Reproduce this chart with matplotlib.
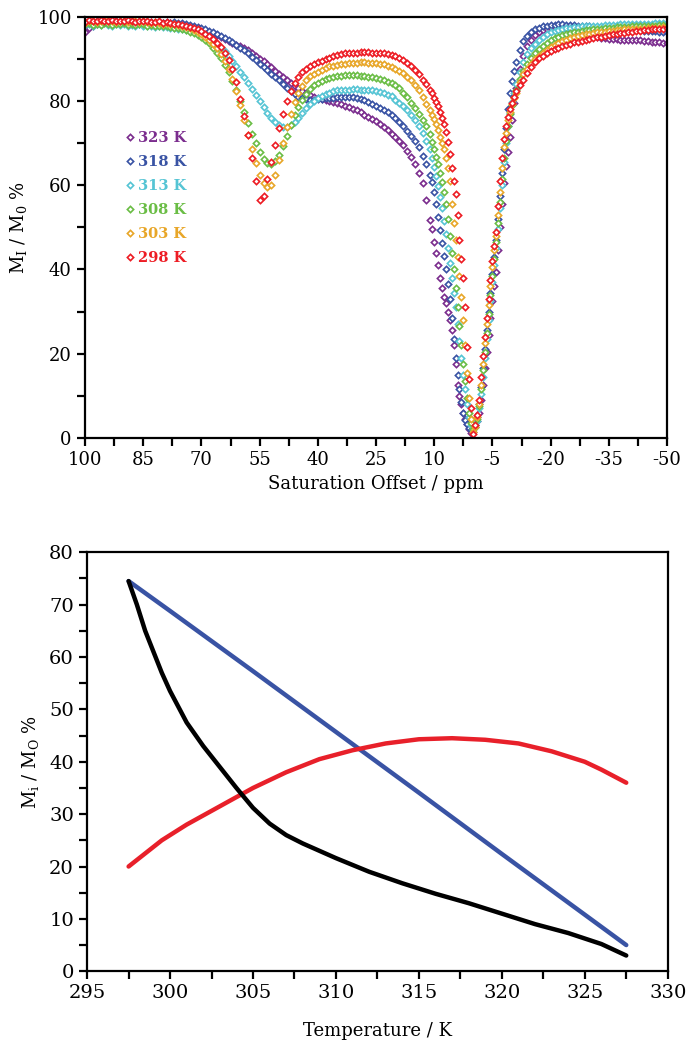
import numpy as np
import matplotlib.pyplot as plt
from matplotlib.ticker import MultipleLocator, FixedLocator

plt.rcParams['font.family'] = ['DejaVu Serif']
plt.rcParams['mathtext.fontset'] = 'dejavuserif'
plt.rcParams['axes.unicode_minus'] = False

# ---- top panel: CEST spectra ----
ppm = list(range(100, 10, -1)) + [10.5 - 0.5 * i for i in range(43)] + list(range(-11, -51, -1))

temps = ['323 K', '318 K', '313 K', '308 K', '303 K', '298 K']
colors = ['#7b2d8e', '#3953a4', '#55c4d4', '#6abd45', '#e8a628', '#ed1c24']

z323 = [
    96.5, 97.3, 97.8, 98.2, 98.5, 98.7, 98.6, 98.8, 98.5, 98.7,
    98.6, 98.8, 98.5, 98.7, 98.4, 98.6, 98.5, 98.7, 98.4, 98.5,
    98.5, 98.6, 98.5, 98.6, 98.4, 98.3, 98.0, 97.8, 97.6, 97.3,
    97.0, 96.7, 96.3, 96.0, 95.6, 95.2, 94.7, 94.3, 93.8, 93.4,
    93.0, 92.5, 92.0, 91.4, 90.7, 90.0, 89.4, 88.7, 88.0, 87.2,
    86.4, 85.7, 85.0, 84.3, 83.6, 83.0, 82.4, 81.9, 81.4, 81.0,
    80.7, 80.4, 80.2, 80.0, 79.8, 79.5, 79.2, 78.9, 78.6, 78.2,
    77.8, 77.3, 76.7, 76.2, 75.8, 75.2, 74.5, 73.8, 73.0, 72.2,
    71.5, 70.6, 69.5, 68.2, 66.8, 65.0, 63.0, 60.5, 56.5, 51.8,
    49.5, 46.5, 43.8, 41.0, 38.0, 35.5, 33.5, 32.0, 30.0, 28.0,
    25.5, 22.0, 17.5, 12.5, 10.0, 8.0, 6.0, 4.5, 3.2, 2.0,
    1.2, 1.5, 2.5, 4.0, 6.0, 9.0, 12.5, 16.5, 20.5, 24.5,
    28.5, 32.5, 36.0, 39.5, 44.5, 50.0, 55.5, 60.5, 64.5, 67.8,
    71.5, 75.5, 79.5,
    83.0, 87.5, 90.8, 93.0, 94.6, 95.7, 96.4, 96.9, 97.2, 97.4,
    97.5, 97.5, 97.4, 97.2, 97.0, 96.7, 96.4, 96.1, 95.8, 95.6,
    95.4, 95.2, 95.0, 94.9, 94.8, 94.8, 94.7, 94.6, 94.6, 94.5,
    94.5, 94.4, 94.4, 94.3, 94.2, 94.1, 94.0, 93.9, 93.8, 93.7]

z318 = [
    98.5, 98.8, 98.4, 98.9, 98.6, 99.0, 98.7, 98.5, 98.9, 98.6,
    98.8, 98.5, 98.7, 98.4, 98.6, 98.3, 98.4, 98.2, 98.1, 98.0,
    98.6, 98.7, 98.6, 98.7, 98.6, 98.5, 98.3, 98.1, 97.9, 97.6,
    97.3, 97.0, 96.7, 96.3, 95.9, 95.5, 95.0, 94.5, 93.9, 93.3,
    92.7, 92.0, 91.3, 90.5, 89.7, 88.9, 88.1, 87.3, 86.5, 85.7,
    84.9, 84.0, 83.1, 82.3, 81.6, 81.0, 80.6, 80.4, 80.3, 80.3,
    80.4, 80.5, 80.6, 80.7, 80.8, 80.9, 81.0, 81.0, 81.0, 80.9,
    80.7, 80.5, 80.2, 79.8, 79.4, 78.9, 78.4, 77.9, 77.3, 76.6,
    75.9, 75.0, 74.0, 72.9, 71.7, 70.4, 69.0, 67.0, 65.0, 62.5,
    60.8, 58.3, 55.5, 52.5, 49.4, 46.3, 43.3, 40.0, 36.5, 33.0,
    28.5, 23.5, 19.0, 15.0, 11.5, 8.5, 6.0, 4.3, 3.2, 2.4,
    1.8, 2.0, 3.0, 5.0, 8.0, 12.0, 16.5, 21.0, 25.5, 30.0,
    34.5, 39.0, 43.0, 47.0, 52.0, 57.5, 63.0, 68.5, 73.5, 78.0,
    81.8, 84.8, 87.2,
    89.2, 92.2, 94.2, 95.5, 96.4, 97.0, 97.4, 97.7, 97.9, 98.0,
    98.1, 98.2, 98.2, 98.1, 98.1, 98.0, 97.9, 97.9, 97.8, 97.7,
    97.6, 97.5, 97.4, 97.3, 97.3, 97.2, 97.1, 97.0, 97.0, 96.9,
    96.9, 96.8, 96.8, 96.7, 96.7, 96.6, 96.6, 96.5, 96.5, 96.5]

z313 = [
    98.0, 98.4, 97.9, 98.3, 98.0, 98.5, 98.1, 97.8, 98.2, 98.0,
    98.3, 97.9, 98.1, 97.8, 98.2, 97.9, 97.7, 97.9, 97.6, 97.7,
    97.5, 97.5, 97.4, 97.3, 97.2, 97.0, 96.9, 96.7, 96.5, 96.3,
    96.0, 95.5, 94.9, 94.2, 93.5, 92.7, 91.8, 90.8, 89.6, 88.3,
    87.0, 85.6, 84.2, 82.8, 81.4, 80.0, 78.6, 77.2, 76.0, 75.0,
    74.3, 73.9, 73.9, 74.3, 75.0, 76.0, 77.2, 78.3, 79.2, 80.0,
    80.6, 81.2, 81.6, 82.0, 82.3, 82.5, 82.6, 82.7, 82.7, 82.8,
    82.8, 82.7, 82.7, 82.6, 82.5, 82.3, 82.1, 81.8, 81.5, 81.1,
    80.3, 79.6, 78.8, 77.8, 76.7, 75.4, 74.0, 72.4, 70.6, 68.6,
    66.5, 64.4, 62.2, 59.8, 57.2, 54.5, 51.5, 48.3, 45.0, 41.5,
    38.0, 34.5, 31.0, 27.0, 23.0, 19.0, 15.0, 11.5, 8.0, 5.0,
    3.0, 2.0, 2.5, 4.0, 7.0, 10.5, 14.5, 19.0, 23.5, 28.0,
    32.5, 37.0, 41.0, 45.0, 49.5, 54.5, 60.0, 65.5, 70.0, 74.0,
    77.2, 79.8, 82.0,
    84.0, 87.0, 89.3, 91.1, 92.5, 93.6, 94.5, 95.2, 95.8, 96.3,
    96.6, 96.9, 97.1, 97.3, 97.4, 97.5, 97.6, 97.7, 97.7, 97.8,
    97.8, 97.9, 97.9, 98.0, 98.0, 98.1, 98.1, 98.2, 98.2, 98.2,
    98.3, 98.3, 98.3, 98.4, 98.4, 98.4, 98.5, 98.5, 98.5, 98.5]

z308 = [
    98.2, 98.5, 98.0, 98.4, 98.1, 98.6, 98.3, 98.0, 98.4, 98.2,
    98.5, 98.1, 98.3, 98.0, 98.4, 98.2, 97.9, 98.1, 97.8, 97.9,
    97.7, 97.8, 97.6, 97.4, 97.3, 97.1, 96.8, 96.5, 96.1, 95.7,
    95.2, 94.5, 93.7, 92.7, 91.5, 90.2, 88.6, 86.8, 84.8, 82.5,
    80.0, 77.5, 74.8, 72.2, 70.0, 68.0, 66.3, 65.3, 65.0, 65.7,
    67.2, 69.3, 71.8, 74.3, 76.6, 78.6, 80.3, 81.7, 82.8, 83.7,
    84.3, 84.8, 85.2, 85.5, 85.7, 85.9, 86.0, 86.1, 86.1, 86.1,
    86.1, 86.0, 85.9, 85.8, 85.7, 85.5, 85.3, 85.0, 84.6, 84.2,
    83.8, 83.0, 82.0, 80.9, 79.6, 78.3, 77.0, 75.5, 74.0, 72.2,
    70.3, 68.5, 66.8, 65.0, 63.0, 60.8, 58.3, 55.5, 52.0, 48.0,
    44.0, 40.0, 35.5, 31.0, 26.5, 22.0, 17.5, 13.5, 9.5, 6.0,
    3.5, 2.0, 2.5, 4.5, 7.5, 11.5, 16.0, 20.5, 25.0, 29.5,
    34.0, 38.5, 42.5, 46.5, 51.0, 56.0, 61.5, 66.5, 70.5, 74.0,
    76.8, 79.0, 81.0,
    82.7, 85.2, 87.2, 88.8, 90.2, 91.3, 92.3, 93.1, 93.8, 94.4,
    94.9, 95.3, 95.6, 95.9, 96.1, 96.3, 96.5, 96.6, 96.8, 96.9,
    97.0, 97.1, 97.2, 97.3, 97.3, 97.4, 97.5, 97.5, 97.6, 97.6,
    97.7, 97.7, 97.8, 97.8, 97.8, 97.9, 97.9, 98.0, 98.0, 98.0]

z303 = [
    98.6, 98.9, 99.1, 98.8, 99.0, 99.2, 98.9, 99.0, 98.7, 99.0,
    99.1, 98.8, 98.9, 99.0, 98.7, 98.9, 98.8, 98.6, 98.7, 98.5,
    98.4, 98.5, 98.3, 98.2, 98.0, 97.8, 97.6, 97.3, 96.9, 96.5,
    96.0, 95.3, 94.5, 93.6, 92.5, 91.2, 89.6, 87.6, 85.2, 82.3,
    79.0, 75.5, 72.0, 68.5, 65.2, 62.5, 60.5, 59.5, 60.0, 62.5,
    66.0, 70.0, 73.8, 77.0, 79.7, 81.9, 83.6, 84.9, 85.9, 86.4,
    87.0, 87.4, 87.8, 88.2, 88.4, 88.6, 88.8, 88.9, 89.0, 89.1,
    89.1, 89.2, 89.2, 89.1, 89.1, 89.0, 88.9, 88.7, 88.4, 88.1,
    87.7, 87.2, 86.6, 85.8, 84.9, 83.8, 82.5, 81.0, 79.4, 77.8,
    76.7, 75.7, 74.5, 73.0, 71.5, 70.0, 68.5, 66.5, 64.0, 61.0,
    55.5, 51.0, 47.0, 43.0, 38.5, 33.5, 28.0, 22.0, 15.5, 9.5,
    4.5, 1.5, 2.5, 5.0, 8.0, 12.5, 17.5, 22.5, 27.0, 31.5,
    36.0, 40.5, 44.5, 48.0, 53.0, 58.5, 64.0, 69.0, 72.5, 75.5,
    77.5, 79.3, 80.8,
    82.0, 84.5, 86.3, 87.7, 88.9, 89.9, 90.8, 91.5, 92.2, 92.8,
    93.3, 93.8, 94.2, 94.6, 94.9, 95.2, 95.4, 95.6, 95.8, 96.0,
    96.1, 96.3, 96.4, 96.5, 96.6, 96.7, 96.8, 96.9, 97.0, 97.0,
    97.1, 97.1, 97.2, 97.2, 97.3, 97.3, 97.4, 97.4, 97.5, 97.5]

z298 = [
    98.8, 99.2, 99.0, 98.9, 99.3, 99.1, 98.9, 99.2, 99.0, 99.1,
    98.9, 99.2, 99.0, 98.8, 99.1, 98.9, 99.0, 98.8, 98.7, 98.9,
    98.6, 98.7, 98.5, 98.4, 98.3, 98.1, 97.9, 97.6, 97.3, 97.0,
    96.6, 96.0, 95.4, 94.7, 93.8, 92.8, 91.5, 89.8, 87.5, 84.5,
    80.5, 76.5, 72.0, 66.5, 61.0, 56.5, 57.5, 61.5, 65.5, 69.5,
    73.5, 77.0, 80.0, 82.3, 84.2, 85.7, 86.8, 87.6, 88.2, 88.8,
    89.2, 89.6, 90.0, 90.3, 90.6, 90.9, 91.1, 91.3, 91.4, 91.5,
    91.5, 91.6, 91.6, 91.6, 91.5, 91.5, 91.4, 91.3, 91.1, 90.9,
    90.6, 90.2, 89.7, 89.0, 88.3, 87.4, 86.3, 85.1, 84.0, 82.7,
    81.8, 80.8, 79.8, 78.8, 77.5, 76.0, 74.5, 72.6, 70.3, 67.3,
    64.0, 61.0, 58.0, 53.0, 47.0, 42.5, 38.0, 31.0, 21.5, 14.0,
    7.0, 1.0, 3.0, 5.5, 9.0, 14.5, 19.5, 24.0, 28.5, 33.0,
    37.5, 42.0, 45.5, 49.0, 55.0, 61.0, 66.5, 71.0, 74.0, 76.3,
    78.0, 79.5, 81.0,
    82.3, 83.8, 85.0, 86.6, 88.0, 89.2, 90.1, 90.8, 91.4, 91.9,
    92.3, 92.7, 93.0, 93.3, 93.6, 93.9, 94.1, 94.3, 94.5, 94.7,
    94.9, 95.1, 95.3, 95.4, 95.6, 95.8, 95.9, 96.1, 96.2, 96.4,
    96.5, 96.6, 96.7, 96.8, 96.9, 97.0, 97.1, 97.2, 97.2, 97.3]

spectra = [z323, z318, z313, z308, z303, z298]
ppm_ticks = [100, 85, 70, 55, 40, 25, 10, -5, -20, -35, -50]

# ---- bottom panel ----
t_blue = [297.5, 300, 305, 310, 315, 320, 325, 327.5]
v_blue = [74.5, 68.8, 57.3, 45.7, 34.1, 22.4, 10.8, 5.0]

t_black = [297.5, 298, 298.5, 299, 299.5, 300, 301, 302, 303, 304, 305, 306, 307, 308,
           309, 310, 312, 314, 316, 318, 320, 322, 324, 326, 327.5]
v_black = [74.5, 70.0, 65.0, 61.0, 57.0, 53.5, 47.5, 43.0, 39.0, 35.0, 31.2, 28.2, 26.0, 24.4,
           23.0, 21.6, 19.0, 16.8, 14.8, 13.0, 11.0, 9.0, 7.3, 5.2, 3.0]

t_red = [297.5, 298.5, 299.5, 301, 303, 305, 307, 309, 311, 313, 315, 317, 319, 321, 323,
         325, 326, 327.5]
v_red = [20.0, 22.5, 25.0, 28.0, 31.5, 35.0, 38.0, 40.5, 42.2, 43.5, 44.3, 44.5, 44.2, 43.5,
         42.0, 40.0, 38.5, 36.0]

fig = plt.figure(figsize=(6.97, 10.5), dpi=100)

ax1 = fig.add_axes([0.122, 0.583, 0.835, 0.401])
for z, c, lab in zip(spectra, colors, temps):
    ax1.plot(ppm, z, linestyle='none', marker='D', ms=3.2, mfc='white', mec=c,
             mew=1.2, label=lab)
ax1.set_xlim(100, -50)
ax1.set_ylim(0, 100)
ax1.xaxis.set_major_locator(FixedLocator(ppm_ticks))
ax1.xaxis.set_minor_locator(FixedLocator([t - 7.5 for t in ppm_ticks[:-1]]))
ax1.set_xticklabels([str(t) for t in ppm_ticks])
ax1.yaxis.set_major_locator(MultipleLocator(20))
ax1.yaxis.set_minor_locator(MultipleLocator(10))
ax1.tick_params(which='both', direction='out', length=6, width=1.6, labelsize=13,
                top=False, right=False)
for s in ax1.spines.values():
    s.set_linewidth(1.6)
ax1.set_xlabel('Saturation Offset / ppm', fontsize=13, labelpad=4)
ax1.set_ylabel(r'M$_\mathregular{I}$ / M$_\mathregular{0}$ %', fontsize=13, labelpad=6)
leg = ax1.legend(loc='upper left', bbox_to_anchor=(0.053, 0.752), frameon=False,
                 handlelength=0.5, handletextpad=0.35, labelspacing=0.68,
                 markerscale=1.0, borderpad=0.2,
                 prop={'weight': 'bold', 'size': 10.5})
for txt, c in zip(leg.get_texts(), colors):
    txt.set_color(c)

ax2 = fig.add_axes([0.125, 0.075, 0.833, 0.399])
ax2.plot(t_blue, v_blue, color='#3953a4', lw=3.2, solid_capstyle='round')
ax2.plot(t_red, v_red, color='#e8202a', lw=3.2, solid_capstyle='round')
ax2.plot(t_black, v_black, color='black', lw=3.2, solid_capstyle='round')
ax2.set_xlim(295, 330)
ax2.set_ylim(0, 80)
ax2.xaxis.set_major_locator(MultipleLocator(5))
ax2.xaxis.set_minor_locator(MultipleLocator(2.5))
ax2.yaxis.set_major_locator(MultipleLocator(10))
ax2.yaxis.set_minor_locator(MultipleLocator(5))
ax2.tick_params(which='both', direction='out', length=6, width=1.6, labelsize=14,
                top=False, right=False)
for s in ax2.spines.values():
    s.set_linewidth(1.6)
ax2.set_xlabel('Temperature / K', fontsize=13, labelpad=14)
ax2.set_ylabel(r'M$_\mathregular{i}$ / M$_\mathregular{O}$ %', fontsize=13, labelpad=6)

fig.savefig('out.png', dpi=100)
